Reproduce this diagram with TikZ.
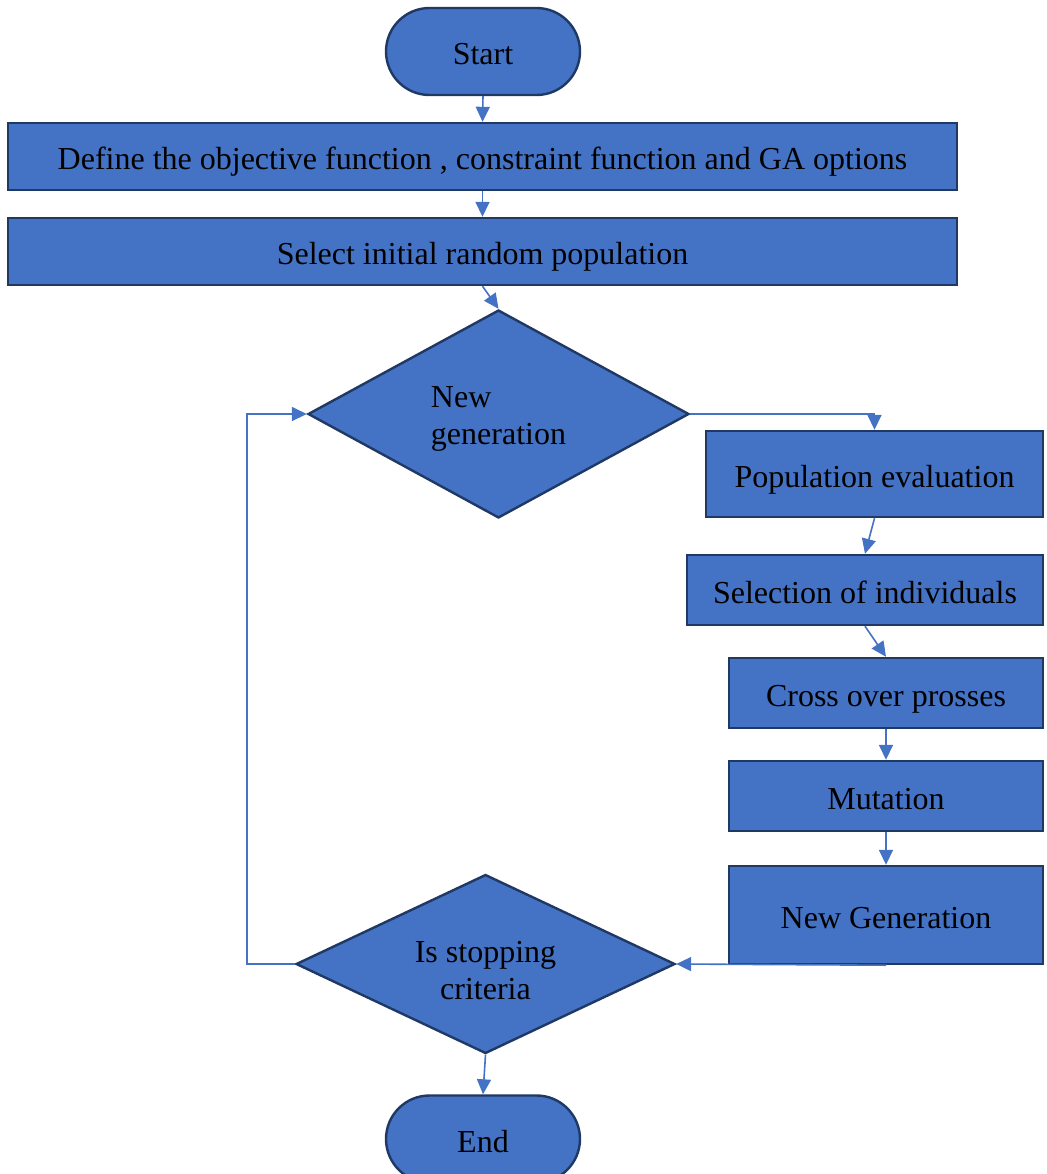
\documentclass[tikz,border=0pt]{standalone}
\usepackage{fontspec}
\setmainfont{Liberation Serif}
\usetikzlibrary{arrows.meta,shapes.geometric,shapes.misc}

\definecolor{fillblue}{HTML}{4472C4}
\definecolor{edgeblue}{HTML}{1F3864}

\begin{document}
\begin{tikzpicture}[
  x=0.5pt, y=-0.5pt,
  font=\fontsize{16}{18.5}\selectfont,
  base/.style={draw=edgeblue, line width=1.2pt, fill=fillblue, align=center},
  box/.style={base, inner sep=2pt, text height=13pt, text depth=0pt},
  term/.style={box, rounded rectangle, minimum width=101pt,
               minimum height=43.5pt},
  dec/.style={base, diamond, shape aspect=2.1, inner sep=0pt,
              text depth=0pt},
  >={Triangle[length=7.5pt, width=7pt]},
  ln/.style={->, draw=fillblue, line width=0.8pt},
]
\useasboundingbox (0,0) rectangle (1047,1174);

\node[term] (start) at (483,51.5) {Start};
\node[box, minimum width=474.5pt, minimum height=33.5pt] (obj) at (482.5,156.5)
     {Define the objective function , constraint function and GA options};
\node[box, minimum width=474.5pt, minimum height=33.5pt] (init) at (482.5,251.5)
     {Select initial random population};
\node[dec, align=left, text height=30pt, minimum width=190.5pt,
      minimum height=104pt] (gen) at (498.5,414) {New\\ generation};

\node[box, minimum width=168.5pt, minimum height=43pt] (eval) at (874.5,474)
     {Population evaluation};
\node[box, minimum width=178pt, minimum height=35pt] (indv) at (865,590)
     {Selection of individuals};
\node[box, minimum width=157pt, minimum height=35pt] (cross) at (886,693)
     {Cross over prosses};
\node[box, minimum width=157pt, minimum height=35pt] (mut) at (886,796)
     {Mutation};
\node[box, minimum width=157pt, minimum height=49pt] (newg) at (886,915)
     {New Generation};

\node[dec, text height=35pt, minimum width=189.5pt, minimum height=89.5pt]
     (stop) at (485.5,964) {Is stopping\\ criteria};
\node[term] (end) at (483,1139) {End};

\draw[ln] (start.south) -- (obj.north);
\draw[ln] (obj.south) -- (init.north);
\draw[ln] (init.south) -- (gen.north);
\draw[ln] (gen.east) -| (eval.north);
\draw[ln] (eval.south) -- (indv.north);
\draw[ln] (indv.south) -- (cross.north);
\draw[ln] (cross.south) -- (mut.north);
\draw[ln] (mut.south) -- (newg.north);
\draw[ln] (newg.south) -- (stop.east);
\draw[ln] (stop.west) -- ++(-48,0) |- (gen.west);
\draw[ln] (stop.south) -- (end.north);

\end{tikzpicture}
\end{document}
